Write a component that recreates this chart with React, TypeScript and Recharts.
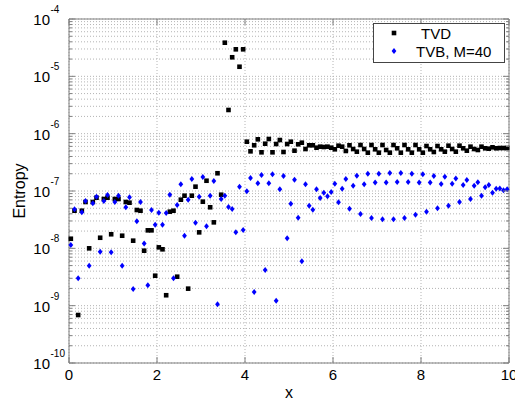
import React from 'react'
import { ScatterChart, Scatter, XAxis, YAxis, CartesianGrid, ReferenceArea, Legend } from 'recharts'

// Entropy per cell, 120 cells on [0, 10]
const TVD = [
  1.47e-8, 4.53e-8, 6.87e-10, 4.53e-8, 6.43e-8, 1.0e-8, 6.43e-8, 7.64e-8, 1.53e-8, 7.25e-8,
  7.64e-8, 1.76e-8, 7.25e-8, 7.25e-8, 1.66e-8, 6.43e-8, 6.25e-8, 1.36e-8, 4.66e-8, 4.53e-8,
  9.09e-9, 2.06e-8, 2.06e-8, 3.33e-9, 1.04e-8, 9.62e-9, 1.52e-9, 4.36e-8, 4.53e-8, 3.2e-9,
  7.05e-8, 8.28e-8, 1.98e-9, 8.28e-8, 1.19e-7, 1.9e-8, 6.51e-8, 1.51e-7, 5.2e-8, 2.84e-8,
  2.04e-7, 8.62e-8, 3.86e-5, 2.59e-6, 2.15e-5, 2.96e-5, 1.47e-5, 2.96e-5, 7.24e-7, 4.92e-7,
  6.27e-7, 7.97e-7, 4.73e-7, 6.68e-7, 8.07e-7, 4.73e-7, 6.6e-7, 7.75e-7, 4.79e-7, 6.6e-7,
  7.24e-7, 5.05e-7, 6.53e-7, 6.96e-7, 5.4e-7, 6.27e-7, 6.27e-7, 5.69e-7, 5.93e-7, 5.85e-7,
  5.93e-7, 5.69e-7, 5.34e-7, 6.17e-7, 5.93e-7, 4.99e-7, 6.27e-7, 5.4e-7, 4.85e-7, 6.34e-7,
  5.4e-7, 4.66e-7, 6.34e-7, 5.34e-7, 4.66e-7, 6.34e-7, 5.19e-7, 4.66e-7, 6.34e-7, 5.56e-7,
  4.66e-7, 6.34e-7, 5.34e-7, 4.66e-7, 6.34e-7, 5.34e-7, 4.66e-7, 6.09e-7, 5.34e-7, 4.79e-7,
  6.09e-7, 5.34e-7, 4.85e-7, 6.17e-7, 5.4e-7, 4.85e-7, 6.17e-7, 5.56e-7, 5.05e-7, 5.93e-7,
  5.4e-7, 5.19e-7, 5.93e-7, 5.56e-7, 5.47e-7, 5.78e-7, 5.56e-7, 5.62e-7, 5.62e-7, 5.62e-7,
]

const TVB = [
  1.14e-8, 4.8e-8, 3.0e-9, 4.25e-8, 6.69e-8, 4.98e-9, 6.1e-8, 7.95e-8, 8.74e-9, 6.69e-8,
  8.52e-8, 8.53e-9, 6.43e-8, 8.28e-8, 4.98e-9, 5.2e-8, 7.76e-8, 1.95e-9, 2.96e-8, 6.43e-8,
  1.22e-8, 2.27e-9, 4.66e-8, 2.58e-8, 4.18e-8, 2.58e-8, 4.13e-8, 8.62e-8, 3.0e-9, 5.7e-8,
  1.31e-7, 1.66e-8, 7.05e-8, 1.62e-7, 2.8e-8, 7.95e-8, 1.75e-7, 2.42e-8, 8.28e-8, 1.49e-7,
  1.06e-9, 7.25e-8, 8.28e-8, 5.26e-8, 4.85e-8, 1.9e-8, 1.19e-7, 2.09e-8, 9.88e-8, 1.69e-7,
  1.73e-9, 1.36e-7, 1.9e-7, 4.19e-9, 1.36e-7, 1.96e-7, 1.22e-9, 1.07e-7, 1.83e-7, 1.5e-8,
  6.0e-8, 1.57e-7, 3.42e-8, 5.94e-9, 1.31e-7, 5.54e-8, 4.72e-8, 1.07e-7, 7.55e-8, 9.34e-8,
  8.08e-8, 9.6e-8, 1.34e-7, 6.35e-8, 1.1e-7, 1.62e-7, 4.91e-8, 1.24e-7, 1.85e-7, 3.97e-8,
  1.31e-7, 2.0e-7, 3.38e-8, 1.4e-7, 2.0e-7, 3.21e-8, 1.4e-7, 2.06e-7, 3.21e-8, 1.44e-7,
  2.06e-7, 3.38e-8, 1.44e-7, 2.0e-7, 3.86e-8, 1.4e-7, 1.96e-7, 4.36e-8, 1.4e-7, 1.83e-7,
  4.99e-8, 1.32e-7, 1.78e-7, 5.54e-8, 1.34e-7, 1.66e-7, 6.43e-8, 1.27e-7, 1.56e-7, 7.25e-8,
  1.24e-7, 1.42e-7, 8.28e-8, 1.16e-7, 1.27e-7, 9.34e-8, 1.1e-7, 1.11e-7, 1.03e-7, 1.07e-7,
]

const X_MAX = 10
const X_TICKS = [0, 2, 4, 6, 8, 10]
const Y_EXPONENTS = [-10, -9, -8, -7, -6, -5, -4]

const FONT = '"Liberation Sans", Arial, Helvetica, sans-serif'
const AXIS = '#7f7f7f'
const LEFT = 69
const RIGHT = 509
const TOP = 19
const BOTTOM = 363

// cell-centred grid
const cellX = (i: number, n: number) => ((i + 0.5) * X_MAX) / n

const tvdData = TVD.map((y, i) => ({ x: cellX(i, TVD.length), y }))
const tvbData = TVB.map((y, i) => ({ x: cellX(i, TVB.length), y }))

// decade + minor ticks (1..9 x 10^e)
const yTicks: number[] = []
Y_EXPONENTS.forEach((e, k) => {
  if (k === Y_EXPONENTS.length - 1) {
    yTicks.push(Math.pow(10, e))
    return
  }
  for (let m = 1; m <= 9; m++) yTicks.push(m * Math.pow(10, e))
})

const Square = (p: any) => (
  <rect x={p.cx - 2.3} y={p.cy - 2.3} width={4.6} height={4.6} fill="#000" />
)

const Diamond = (p: any) => (
  <path
    d={`M${p.cx},${p.cy - 3} L${p.cx + 2.4},${p.cy} L${p.cx},${p.cy + 3} L${p.cx - 2.4},${p.cy} Z`}
    fill="#0000ff"
  />
)

const YTick = (props: any) => {
  const { y, payload } = props
  const lg = Math.log10(payload.value)
  const exp = Math.round(lg)
  const major = Math.abs(lg - exp) < 1e-6
  const len = major ? 6 : 3
  return (
    <g>
      <line x1={LEFT} x2={LEFT + len} y1={y} y2={y} stroke={AXIS} />
      <line x1={RIGHT} x2={RIGHT - len} y1={y} y2={y} stroke={AXIS} />
      {major && (
        <>
          <text x={50} y={y + 6} textAnchor="end" fontSize={15} fontFamily={FONT} fill="#000">
            10
          </text>
          <text x={50.5} y={y - 6} fontSize={10} fontFamily={FONT} fill="#000">
            {exp}
          </text>
        </>
      )}
    </g>
  )
}

const XTick = (props: any) => {
  const { x, payload } = props
  return (
    <g>
      <line x1={x} x2={x} y1={BOTTOM} y2={BOTTOM - 6} stroke={AXIS} />
      <line x1={x} x2={x} y1={TOP} y2={TOP + 6} stroke={AXIS} />
      <text x={x} y={380} textAnchor="middle" fontSize={15} fontFamily={FONT} fill="#000">
        {payload.value}
      </text>
    </g>
  )
}

const LegendBox = () => (
  <svg width={132} height={40} style={{ display: 'block' }}>
    <rect x={0.5} y={0.5} width={131} height={39} fill="#fff" stroke="#444" />
    <Square cx={21} cy={10} />
    <text x={48} y={16} fontSize={15} fontFamily={FONT} fill="#000">
      TVD
    </text>
    <Diamond cx={21} cy={28} />
    <text x={43} y={34} fontSize={15} fontFamily={FONT} fill="#000">
      TVB, M=40
    </text>
  </svg>
)

export default function App() {
  return (
    <div style={{ position: 'absolute', left: 0, top: 0, background: '#fff' }}>
      <ScatterChart width={515} height={401} margin={{ top: TOP, right: 515 - RIGHT, bottom: 8, left: 0 }}>
        <CartesianGrid stroke="#b4b4b4" strokeDasharray="1 2" />
        <XAxis
          type="number"
          dataKey="x"
          domain={[0, X_MAX]}
          ticks={X_TICKS}
          interval={0}
          height={30}
          axisLine={false}
          tickLine={false}
          tick={<XTick />}
          label={() => (
            <text x={289} y={398} textAnchor="middle" fontSize={16} fontFamily={FONT} fill="#000">
              x
            </text>
          )}
        />
        <YAxis
          type="number"
          dataKey="y"
          scale="log"
          domain={[1e-10, 1e-4]}
          allowDataOverflow
          ticks={yTicks}
          interval={0}
          width={LEFT}
          axisLine={false}
          tickLine={false}
          tick={<YTick />}
          label={() => (
            <text
              x={25}
              y={191}
              transform="rotate(-90, 25, 191)"
              textAnchor="middle"
              fontSize={16}
              fontFamily={FONT}
              fill="#000"
            >
              Entropy
            </text>
          )}
        />
        <ReferenceArea x1={0} x2={X_MAX} y1={1e-10} y2={1e-4} fill="none" stroke={AXIS} strokeWidth={1} />
        <Scatter name="TVD" data={tvdData} shape={Square} isAnimationActive={false} />
        <Scatter name="TVB, M=40" data={tvbData} shape={Diamond} isAnimationActive={false} />
        <Legend
          layout="horizontal"
          verticalAlign="middle"
          align="center"
          wrapperStyle={{ left: 373, top: 23, width: 132, height: 40 }}
          content={() => <LegendBox />}
        />
      </ScatterChart>
    </div>
  )
}
